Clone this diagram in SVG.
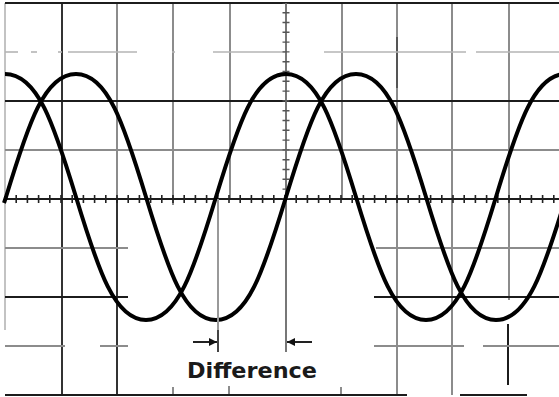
<svg xmlns="http://www.w3.org/2000/svg" width="559" height="397" viewBox="0 0 559 397">
<style>
.dk{stroke:#1c1c1c;stroke-width:2;fill:none}
.gy{stroke:#8c8c8c;stroke-width:2;fill:none}
.lg{stroke:#b4b4b4;stroke-width:1.6;fill:none}
.wave{stroke:#000;stroke-width:4;fill:none;stroke-linejoin:round}
.lbl{font-family:"DejaVu Sans","Liberation Sans",sans-serif;font-size:21px;font-weight:bold;fill:#1a1a1a}
</style>
<defs>
<marker id="ah" viewBox="0 0 10 10" refX="10" refY="5" markerWidth="9" markerHeight="8" markerUnits="userSpaceOnUse" orient="auto">
<path d="M0 0 L10 5 L0 10 Z" fill="#111"/>
</marker>
</defs>
<rect width="559" height="397" fill="#fff"/>
<g id="grid">
<line class="lg" x1="5" y1="3" x2="5" y2="330"/>
<line class="dk" x1="62" y1="3" x2="62" y2="395" style="stroke:#333"/>
<line class="gy" x1="117" y1="3" x2="117" y2="199"/>
<line class="dk" x1="117" y1="199" x2="117" y2="395" style="stroke:#333"/>
<line class="gy" x1="173" y1="3" x2="173" y2="205"/>
<line class="gy" x1="173" y1="387" x2="173" y2="395"/>
<line class="gy" x1="230" y1="3" x2="230" y2="199"/>
<line class="gy" x1="229" y1="386" x2="229" y2="395"/>
<line class="gy" x1="342" y1="3" x2="342" y2="199"/>
<line class="gy" x1="341" y1="387" x2="341" y2="395"/>
<line class="gy" x1="397" y1="3" x2="397" y2="395"/>
<line class="dk" x1="397" y1="37" x2="397" y2="88" style="stroke:#555"/>
<line class="gy" x1="452" y1="3" x2="452" y2="395"/>
<line class="gy" x1="509" y1="3" x2="509" y2="300"/>
<line class="dk" x1="508" y1="324" x2="508" y2="385"/>
<line class="dk" x1="5" y1="3" x2="559" y2="3"/>
<g class="lg">
<line x1="5" y1="52" x2="18" y2="52"/>
<line x1="31" y1="52" x2="37" y2="52"/>
<line x1="58" y1="52" x2="62" y2="52"/>
<line x1="68" y1="52" x2="137" y2="52"/>
<line x1="172" y1="52" x2="175" y2="52"/>
<line x1="213" y1="52" x2="286" y2="52"/>
<line x1="324" y1="52" x2="466" y2="52"/>
<line x1="476" y1="52" x2="559" y2="52"/>
</g>
<line class="dk" x1="5" y1="101" x2="559" y2="101"/>
<line class="gy" x1="5" y1="150" x2="559" y2="150"/>
<line class="gy" x1="5" y1="248" x2="128" y2="248"/>
<line class="gy" x1="376" y1="248" x2="559" y2="248"/>
<line class="dk" x1="5" y1="297" x2="128" y2="297"/>
<line class="dk" x1="374" y1="297" x2="559" y2="297"/>
<line class="gy" x1="5" y1="346" x2="65" y2="346"/>
<line class="gy" x1="100" y1="346" x2="128" y2="346"/>
<line class="gy" x1="374" y1="346" x2="464" y2="346"/>
<line class="gy" x1="483" y1="346" x2="559" y2="346"/>
<line class="dk" x1="5" y1="395" x2="407" y2="395"/>
<line class="dk" x1="460" y1="395" x2="527" y2="395"/>
</g>
<g id="axes">
<line class="dk" x1="5" y1="199" x2="559" y2="199"/>
<line x1="5" y1="199" x2="559" y2="199" stroke="#222" stroke-width="8" stroke-dasharray="1.6 9.6" stroke-dashoffset="-10.4"/>
<line class="gy" x1="286" y1="3" x2="286" y2="352" style="stroke:#777"/>
<line x1="286" y1="3" x2="286" y2="199" stroke="#555" stroke-width="7" stroke-dasharray="1.4 8.4" stroke-dashoffset="-9"/>
</g>
<g id="wave-a">
<path class="wave" d="M5 74 C37.5 74 53.6 123.2 76 197 C98.4 270.8 114.5 320 146 320 C177.5 320 193.6 270.8 216 197 C238.4 123.2 254.5 74 286 74 C317.5 74 333.6 123.2 356 197 C378.4 270.8 394.5 320 426 320 C457.5 320 473.6 270.8 496 197 C518.4 123.2 534.5 74 566 74"/>
</g>
<g id="wave-b">
<path class="wave" d="M4 203 L6 197 C28.4 123.2 44.5 74 76 74 C107.5 74 123.6 123.2 146 197 C168.4 270.8 184.5 320 216 320 C247.5 320 263.6 270.8 286 197 C308.4 123.2 324.5 74 356 74 C387.5 74 403.6 123.2 426 197 C448.4 270.8 464.5 320 496 320 C527.5 320 543.6 270.8 566 197"/>
</g>
<g id="connectors">
<line class="gy" x1="218" y1="199" x2="218" y2="330" style="stroke:#999"/>
<line class="dk" x1="218" y1="330" x2="218" y2="352" style="stroke:#444"/>
<line stroke="#222" stroke-width="2" x1="193" y1="342" x2="217" y2="342" marker-end="url(#ah)"/>
<line stroke="#222" stroke-width="2" x1="312" y1="342" x2="287" y2="342" marker-end="url(#ah)"/>
</g>
<g id="label">
<text class="lbl" x="252" y="378" text-anchor="middle" textLength="130" lengthAdjust="spacingAndGlyphs">Difference</text>
</g>
</svg>
